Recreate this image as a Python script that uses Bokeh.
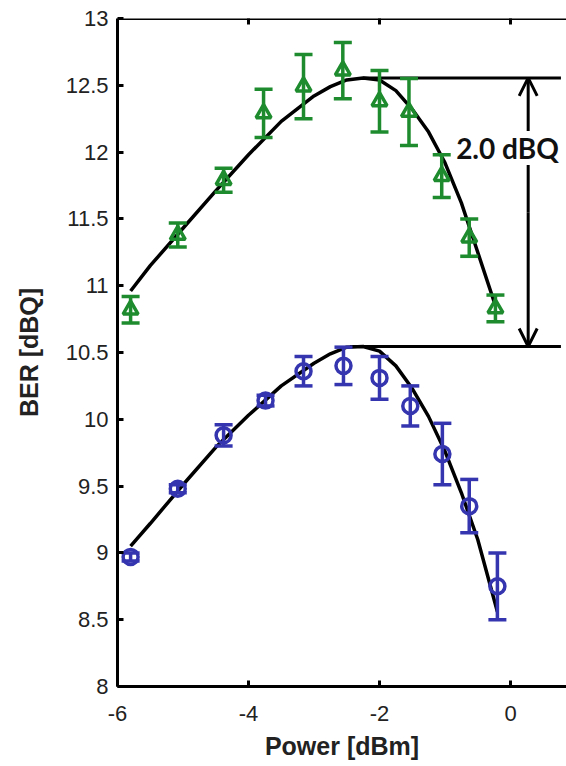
from bokeh.plotting import figure
from bokeh.models import (ColumnDataSource, Whisker, Arrow, OpenHead, Label,
                          FixedTicker, Range1d, Span)
from bokeh.embed import file_html
from bokeh.resources import INLINE
import math

# ---- data ----
green_x = [-5.8, -5.08, -4.38, -3.77, -3.16, -2.56, -2.0, -1.55, -1.05, -0.63, -0.23]
green_y = [10.82, 11.38, 11.79, 12.29, 12.49, 12.61, 12.38, 12.30, 11.82, 11.36, 10.83]
green_err = [0.10, 0.09, 0.09, 0.18, 0.24, 0.21, 0.23, 0.25, 0.16, 0.14, 0.10]

blue_x = [-5.8, -5.08, -4.38, -3.74, -3.16, -2.55, -2.0, -1.53, -1.04, -0.63, -0.2]
blue_y = [8.97, 9.48, 9.88, 10.14, 10.36, 10.40, 10.31, 10.10, 9.74, 9.35, 8.75]
blue_err = [0.03, 0.03, 0.08, 0.04, 0.11, 0.14, 0.16, 0.15, 0.23, 0.20, 0.25]

green_fit_x = [-5.8, -5.5, -5.0, -4.5, -4.0, -3.5, -3.0, -2.75, -2.5, -2.25, -2.0,
               -1.75, -1.5, -1.25, -1.0, -0.75, -0.5, -0.25]
green_fit_y = [10.96, 11.15, 11.43, 11.71, 11.98, 12.23, 12.42, 12.49, 12.54, 12.555,
               12.54, 12.46, 12.32, 12.15, 11.92, 11.62, 11.25, 10.88]

blue_fit_x = [-5.8, -5.5, -5.0, -4.5, -4.0, -3.5, -3.0, -2.75, -2.5, -2.25, -2.0,
              -1.75, -1.5, -1.25, -1.0, -0.75, -0.5, -0.2]
blue_fit_y = [9.05, 9.22, 9.51, 9.79, 10.03, 10.25, 10.42, 10.49, 10.54, 10.545,
              10.51, 10.40, 10.23, 10.02, 9.76, 9.45, 9.10, 8.56]

green_peak = 12.555
blue_peak = 10.545
green_peak_x = -2.25
blue_peak_x = -2.45
ref_line_end = 0.77
arrow_x = 0.27
delta_label = "2.0 dBQ"
delta_label_pos = (-0.83, 12.03)

x_ticks = [-6, -4, -2, 0]
x_labels = ["-6", "-4", "-2", "0"]
y_ticks = [8, 8.5, 9, 9.5, 10, 10.5, 11, 11.5, 12, 12.5, 13]
y_labels = ["8", "8.5", "9", "9.5", "10", "10.5", "11", "11.5", "12", "12.5", "13"]
x_min, x_max, y_min, y_max = -6, 0.855, 8, 13

GREEN = "#1e8c2e"
BLUE = "#3535b0"
FONT = "Liberation Sans"

p = figure(width=566, height=766, output_backend="svg", toolbar_location=None,
           x_range=Range1d(x_min, x_max), y_range=Range1d(y_min, y_max),
           min_border_left=117, min_border_top=18, min_border_bottom=80,
           min_border_right=0)
p.outline_line_color = None
p.grid.visible = False
p.background_fill_color = "white"
p.border_fill_color = "white"

for ax in (p.xaxis[0], p.yaxis[0]):
    ax.major_tick_in = 6
    ax.major_tick_out = 0
    ax.minor_tick_line_color = None
    ax.axis_line_width = 3
    ax.major_tick_line_width = 3
    ax.major_label_text_font = FONT
    ax.major_label_text_font_size = "22px"
    ax.major_label_text_color = "#222222"
    ax.axis_label_text_font = FONT
    ax.axis_label_text_font_style = "bold"
    ax.axis_label_text_font_size = "25px"
    ax.axis_label_text_color = "#222222"

p.xaxis[0].ticker = FixedTicker(ticks=x_ticks)
p.xaxis[0].major_label_overrides = dict(zip(x_ticks, x_labels))
p.xaxis[0].axis_label = "Power [dBm]"
p.xaxis[0].major_label_standoff = 19
p.xaxis[0].axis_label_standoff = 8

p.yaxis[0].ticker = FixedTicker(ticks=y_ticks)
p.yaxis[0].major_label_overrides = dict(zip(y_ticks, y_labels))
p.yaxis[0].axis_label = "BER [dBQ]"
p.yaxis[0].major_label_standoff = 9
p.yaxis[0].axis_label_standoff = 20

# top box line with inward ticks
p.add_layout(Span(location=y_max, dimension="width", line_color="black", line_width=3))
p.scatter(x_ticks, [y_max] * len(x_ticks), marker="dash", angle=math.pi / 2, size=12,
          line_color="black", line_width=3)

# reference lines at peaks
p.line([green_peak_x, ref_line_end], [green_peak, green_peak], line_color="black", line_width=3)
p.line([blue_peak_x, ref_line_end], [blue_peak, blue_peak], line_color="black", line_width=3)

# fits
p.line(green_fit_x, green_fit_y, line_color="black", line_width=3.5)
p.line(blue_fit_x, blue_fit_y, line_color="black", line_width=3.5)

# data with error bars
for xs, ys, es, col, marker in ((green_x, green_y, green_err, GREEN, "triangle"),
                                (blue_x, blue_y, blue_err, BLUE, "circle")):
    src = ColumnDataSource(dict(x=xs, y=ys,
                                lo=[y - e for y, e in zip(ys, es)],
                                hi=[y + e for y, e in zip(ys, es)]))
    p.scatter("x", "y", source=src, marker=marker, size=15, line_color=col,
              line_width=3.5, fill_color="white", fill_alpha=0.0)
    w = Whisker(source=src, base="x", lower="lo", upper="hi", line_color=col,
                line_width=3.5, level="glyph")
    for h in (w.upper_head, w.lower_head):
        h.size = 18
        h.line_color = col
        h.line_width = 3.5
    p.add_layout(w)

# double arrow
mid = (green_peak + blue_peak) / 2
p.add_layout(Arrow(x_start=arrow_x, y_start=mid, x_end=arrow_x, y_end=green_peak,
                   line_width=3, line_color="black",
                   end=OpenHead(size=18, line_width=3, line_color="black")))
p.add_layout(Arrow(x_start=arrow_x, y_start=mid, x_end=arrow_x, y_end=blue_peak,
                   line_width=3, line_color="black",
                   end=OpenHead(size=18, line_width=3, line_color="black")))

p.add_layout(Label(x=delta_label_pos[0], y=delta_label_pos[1], text=delta_label,
                   text_font="Lato", text_font_style="bold", text_font_size="28px",
                   text_baseline="middle", text_align="left", text_color="#111111",
                   background_fill_color="white", background_fill_alpha=1.0))

open("out.html", "w").write(file_html(p, INLINE))
